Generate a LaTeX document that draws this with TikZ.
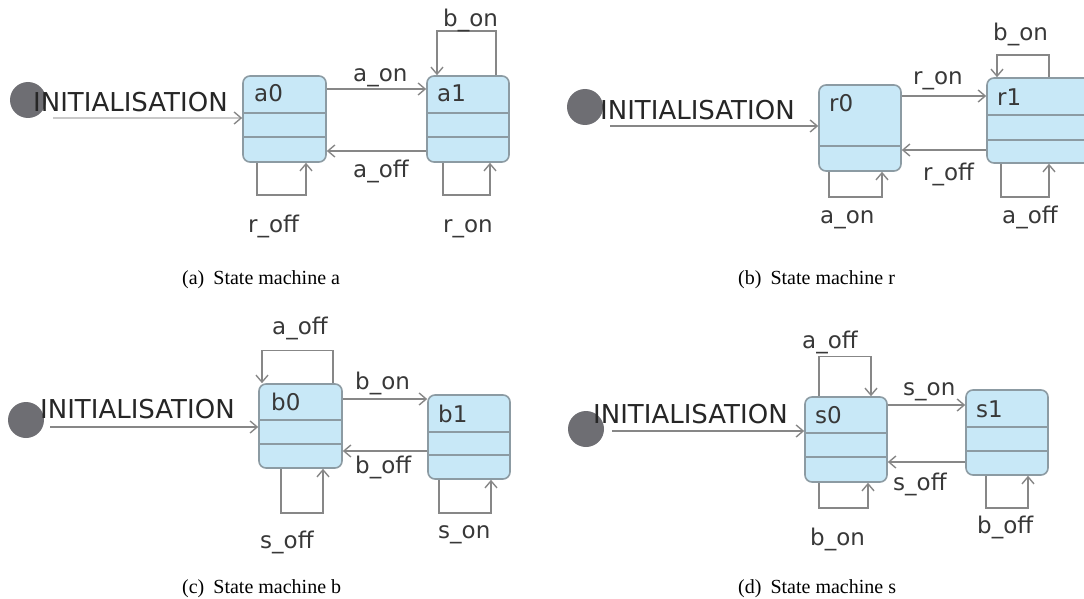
\documentclass[tikz,border=0pt]{standalone}
\usepackage{fontspec}
\setmainfont{Liberation Serif}
\newfontfamily\uifont{DejaVu Sans}
\usetikzlibrary{arrows.meta}
\definecolor{boxfill}{HTML}{C8E8F7}
\definecolor{boxline}{HTML}{8C9BA3}
\definecolor{trline}{HTML}{878787}
\definecolor{initc}{HTML}{6E6E73}
\definecolor{txt}{HTML}{383838}
\begin{document}
\begin{tikzpicture}[x=1pt,y=-1pt,
  stbox/.style={draw=boxline, fill=boxfill, line width=1.6pt, rounded corners=7pt, inner sep=0pt},
  tr/.style={draw=trline, line width=1.4pt, -{Straight Barb[length=7pt,width=12pt]}},
  lbl/.style={font=\uifont\fontsize{23}{23}\selectfont, text=txt, anchor=base west, inner sep=0pt},
  ilbl/.style={font=\uifont\fontsize{26}{26}\selectfont, text=black!85, anchor=base west, inner sep=0pt},
  initst/.style={circle, fill=initc, minimum size=36pt, inner sep=0pt},
  captxt/.style={font=\fontsize{20}{20}\selectfont, anchor=base west, inner sep=0pt},
  sep/.style={draw=boxline, line width=1.6pt}]
\useasboundingbox (0,0) rectangle (1084,599);
\clip (0,0) rectangle (1084,599);

% ================= (a) =================
\node[initst] (ia) at (28,100) {};
\coordinate (iaS) at (53,118);
\node[stbox, minimum width=83pt, minimum height=86pt] (a0) at (284.5,119) {};
\node[stbox, minimum width=82pt, minimum height=86pt] (a1) at (468,119) {};
\foreach \n in {a0,a1}{
  \draw[sep] ([yshift=6pt]\n.west) -- ([yshift=6pt]\n.east);
  \draw[sep] ([yshift=-18pt]\n.west) -- ([yshift=-18pt]\n.east);
}
\node[lbl] (ta0) at (254,102) {a0};
\node[lbl] (ta1) at (437,102) {a1};
\draw[draw=trline!45, line width=1.4pt, -{Straight Barb[length=7pt,width=12pt,color=trline]}] (iaS) -- ([yshift=1pt]a0.west);
\node[ilbl] (ina) at (33,112) {INITIALISATION};
\draw[tr] ([yshift=30pt]a0.east) -- ([yshift=30pt]a1.west);
\draw[tr] ([yshift=-32pt]a1.west) -- ([yshift=-32pt]a0.east);
\draw[tr] ([xshift=28pt]a1.north) -- ++(0,-44) -| ([xshift=-31pt]a1.north);
\draw[tr] ([xshift=-27.5pt]a0.south) -- ++(0,32) -| ([xshift=21.5pt]a0.south);
\draw[tr] ([xshift=-25pt]a1.south) -- ++(0,32) -| ([xshift=22pt]a1.south);
\node[lbl] (la1) at (353,82) {a\_on};
\node[lbl] (la2) at (353,177) {a\_off};
\node[lbl] (la3) at (443,27) {b\_on};
\node[lbl] (la4) at (248,232) {r\_off};
\node[lbl] (la5) at (443,232) {r\_on};
\node[captxt] (capa) at (182,284) {(a)\hspace{0.45em}State machine a};

% ================= (b) =================
\node[initst] (ib) at (585,107) {};
\coordinate (ibS) at (610,126);
\node[stbox, minimum width=82pt, minimum height=86pt] (r0) at (860,128) {};
\node[stbox, minimum width=113pt, minimum height=85pt] (r1) at (1043.5,120.5) {};
\draw[sep] ([yshift=-18pt]r0.west) -- ([yshift=-18pt]r0.east);
\draw[sep] ([yshift=5.5pt]r1.west) -- ([yshift=5.5pt]r1.east);
\draw[sep] ([yshift=-19.5pt]r1.west) -- ([yshift=-19.5pt]r1.east);
\node[lbl] (tr0) at (829,112) {r0};
\node[lbl] (tr1) at (997,106) {r1};
\draw[tr] (ibS) -- ([yshift=2pt]r0.west);
\node[ilbl] (inb) at (600,120) {INITIALISATION};
\draw[tr] ([yshift=32pt]r0.east) -- ([yshift=24.5pt]r1.west);
\draw[tr] ([yshift=-29.5pt]r1.west) -- ([yshift=-22pt]r0.east);
\draw[tr] ([xshift=5.5pt]r1.north) -- ++(0,-22) -| ([xshift=-46.5pt]r1.north);
\draw[tr] ([xshift=-31pt]r0.south) -- ++(0,25) -| ([xshift=22pt]r0.south);
\draw[tr] ([xshift=-42.5pt]r1.south) -- ++(0,33) -| ([xshift=5.5pt]r1.south);
\node[lbl] (lb1) at (913,85) {r\_on};
\node[lbl] (lb2) at (923,180) {r\_off};
\node[lbl] (lb3) at (993,41) {b\_on};
\node[lbl] (lb4) at (820,223) {a\_on};
\node[lbl] (lb5) at (1002,223) {a\_off};
\node[captxt] (capb) at (738,284) {(b)\hspace{0.45em}State machine r};

% ================= (c) =================
\node[initst] (ic) at (26,420) {};
\coordinate (icS) at (50,427);
\node[stbox, minimum width=83pt, minimum height=84pt] (b0) at (300.5,426) {};
\node[stbox, minimum width=82pt, minimum height=84pt] (b1) at (469,437) {};
\draw[sep] ([yshift=6pt]b0.west) -- ([yshift=6pt]b0.east);
\draw[sep] ([yshift=-18pt]b0.west) -- ([yshift=-18pt]b0.east);
\draw[sep] ([yshift=5pt]b1.west) -- ([yshift=5pt]b1.east);
\draw[sep] ([yshift=-18pt]b1.west) -- ([yshift=-18pt]b1.east);
\node[lbl] (tb0) at (271,410) {b0};
\node[lbl] (tb1) at (438,422) {b1};
\draw[tr] (icS) -- ([yshift=-1pt]b0.west);
\node[ilbl] (inc) at (40,418) {INITIALISATION};
\draw[tr] ([yshift=27pt]b0.east) -- ([yshift=38pt]b1.west);
\draw[tr] ([yshift=-14pt]b1.west) -- ([yshift=-25pt]b0.east);
\draw[tr] ([xshift=32.5pt]b0.north) -- ++(0,-33) -| ([xshift=-38.5pt]b0.north);
\draw[tr] ([xshift=-19.5pt]b0.south) -- ++(0,44) -| ([xshift=22.5pt]b0.south);
\draw[tr] ([xshift=-30pt]b1.south) -- ++(0,33) -| ([xshift=22pt]b1.south);
\node[lbl] (lc1) at (355,389) {b\_on};
\node[lbl] (lc2) at (355,473) {b\_off};
\node[lbl] (lc3) at (272,334) {a\_off};
\node[lbl] (lc4) at (260,548) {s\_off};
\node[lbl] (lc5) at (438,538) {s\_on};
\node[captxt] (capc) at (182,593) {(c)\hspace{0.45em}State machine b};

% ================= (d) =================
\node[initst] (id) at (586,429) {};
\coordinate (idS) at (612,431);
\node[stbox, minimum width=82pt, minimum height=85pt] (s0) at (846,439.5) {};
\node[stbox, minimum width=82pt, minimum height=85pt] (s1) at (1007,432.5) {};
\draw[sep] ([yshift=6.5pt]s0.west) -- ([yshift=6.5pt]s0.east);
\draw[sep] ([yshift=-17.5pt]s0.west) -- ([yshift=-17.5pt]s0.east);
\draw[sep] ([yshift=5.5pt]s1.west) -- ([yshift=5.5pt]s1.east);
\draw[sep] ([yshift=-18.5pt]s1.west) -- ([yshift=-18.5pt]s1.east);
\node[lbl] (ts0) at (815,423) {s0};
\node[lbl] (ts1) at (976,417) {s1};
\draw[tr] (idS) -- ([yshift=8.5pt]s0.west);
\node[ilbl] (ind) at (593,423) {INITIALISATION};
\draw[tr] ([yshift=34.5pt]s0.east) -- ([yshift=27.5pt]s1.west);
\draw[tr] ([yshift=-29.5pt]s1.west) -- ([yshift=-22.5pt]s0.east);
\draw[tr] ([xshift=-27pt]s0.north) -- ++(0,-40) -| ([xshift=25pt]s0.north);
\draw[tr] ([xshift=-27pt]s0.south) -- ++(0,25) -| ([xshift=22pt]s0.south);
\draw[tr] ([xshift=-21pt]s1.south) -- ++(0,32) -| ([xshift=21pt]s1.south);
\node[lbl] (ld1) at (903,395) {s\_on};
\node[lbl] (ld2) at (893,490) {s\_off};
\node[lbl] (ld3) at (802,348) {a\_off};
\node[lbl] (ld4) at (810,545) {b\_on};
\node[lbl] (ld5) at (977,533) {b\_off};
\node[captxt] (capd) at (738,593) {(d)\hspace{0.45em}State machine s};
\end{tikzpicture}
\end{document}
